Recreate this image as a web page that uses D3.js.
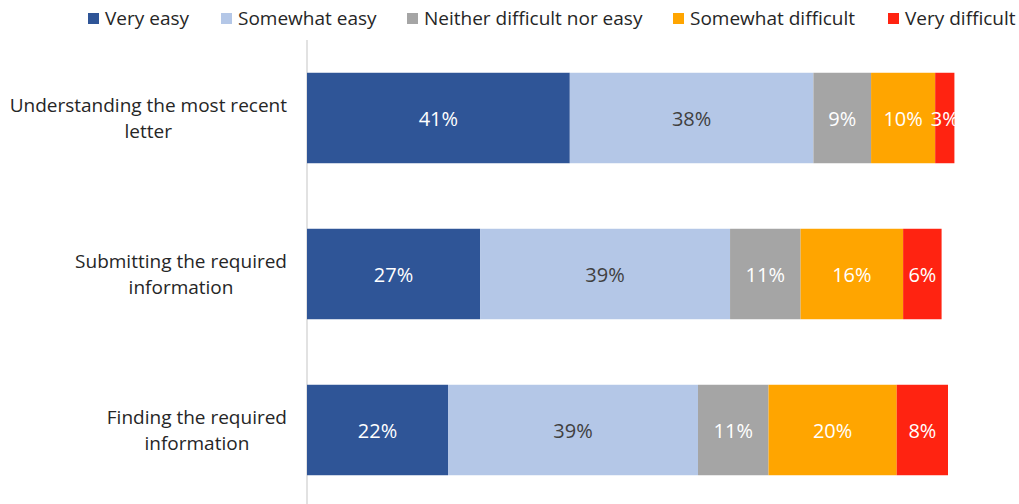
<!DOCTYPE html>
<html><head><meta charset="utf-8">
<script src="https://cdn.jsdelivr.net/npm/d3@7"></script>
<style>body{margin:0;background:#fff}svg{display:block}text{font-family:"Open Sans",sans-serif}</style>
</head><body><svg id="c" width="1019" height="504"></svg>
<script>
const categories = [["Understanding the most recent","letter"],["Submitting the required","information"],["Finding the required","information"]];
const seriesNames = ["Very easy","Somewhat easy","Neither difficult nor easy","Somewhat difficult","Very difficult"];
const veryEasy = [41,27,22];
const somewhatEasy = [38,39,39];
const neither = [9,11,11];
const somewhatDifficult = [10,16,20];
const veryDifficult = [3,6,8];
const colors = ["#2F5597","#B4C7E7","#A5A5A5","#FFA500","#FF2311"];
const labelColors = ["#ffffff","#404040","#ffffff","#ffffff","#ffffff"];
const series = [veryEasy,somewhatEasy,neither,somewhatDifficult,veryDifficult];

const svg = d3.select("#c");
const x = d3.scaleLinear().domain([0,100]).range([307,948]);
const y = d3.scaleBand().domain(d3.range(categories.length)).range([40,508]).paddingInner(0.42).paddingOuter(0.21);

svg.append("line").attr("x1",307).attr("x2",307).attr("y1",40).attr("y2",504).attr("stroke","#d9d9d9").attr("stroke-width",1.5);

categories.forEach((lines,i)=>{
  let cum=0;
  series.forEach((s,k)=>{
    const v=s[i];
    const x0=x(cum), x1=x(cum+v);
    svg.append("rect").attr("x",x0).attr("y",y(i)).attr("width",x1-x0).attr("height",y.bandwidth()).attr("fill",colors[k]);
    svg.append("text").attr("x",(x0+x1)/2).attr("y",y(i)+y.bandwidth()/2+1).attr("dy","0.35em")
      .attr("text-anchor","middle").attr("font-size",20).attr("fill",labelColors[k]).text(v+"%");
    cum+=v;
  });
  const g=svg.append("g");
  const ts=lines.map((l,j)=>g.append("text").attr("font-size",19).attr("fill","#262626").attr("text-anchor","middle")
     .attr("y",y(i)+y.bandwidth()/2 + (j-(lines.length-1)/2)*26).attr("dy","0.35em").text(l));
  const w=d3.max(ts,t=>t.node().getComputedTextLength());
  ts.forEach(t=>t.attr("x",287-w/2));
});

const legendX=[88,221,407,673,888];
seriesNames.forEach((n,k)=>{
  svg.append("rect").attr("x",legendX[k]).attr("y",13).attr("width",11).attr("height",11).attr("fill",colors[k]);
  svg.append("text").attr("x",legendX[k]+17).attr("y",18.5).attr("dy","0.35em").attr("font-size",19).attr("fill","#262626").text(n);
});
</script></body></html>
